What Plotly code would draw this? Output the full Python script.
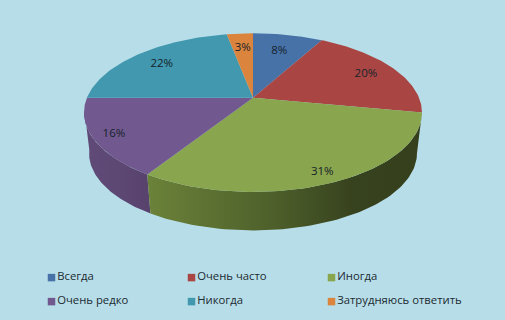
import numpy as np
import plotly.graph_objects as go

categories = ["Всегда", "Очень часто", "Иногда", "Очень редко", "Никогда", "Затрудняюсь ответить"]
percent_values = [8, 20, 31, 16, 22, 3]
slice_colors = ["#4672A8", "#A94644", "#89A54E", "#71588F", "#4198AF", "#DB843D"]
label_radius = [0.72, 0.80, 0.89, 0.88, 0.78, 0.75]
legend_x = [51.5, 191.5, 331.5, 51.5, 191.5, 331.5]
legend_y = [277.6, 277.6, 277.6, 301.6, 301.6, 301.6]

CX, CY, A, B, K = 253.0, 97.7, 166.0, 76.5, 0.188
BOTTOM_SCALE, BOTTOM_DY = 0.97, 41.3
LABEL_DY = 1.0


def project(theta_deg, r=1.0, scale=1.0, dy=0.0):
    t = np.radians(theta_deg)
    u, v = r * np.sin(t), -r * np.cos(t)
    d = 1 - K * v
    return CX + scale * A * u / d, CY + dy + scale * B * v / d


edges = np.concatenate([[0], np.cumsum(percent_values)]) * 3.6
fig = go.Figure()


def side(a0, a1, stops, x0, x1):
    th = np.linspace(a0, a1, 80)
    xt, yt = project(th)
    xb, yb = project(th[::-1], scale=BOTTOM_SCALE, dy=BOTTOM_DY)
    fig.add_trace(go.Scatter(
        x=np.concatenate([xt, xb]), y=np.concatenate([yt, yb]),
        mode="lines", line=dict(width=0), fill="toself",
        fillgradient=dict(type="horizontal", colorscale=stops, start=x0, stop=x1),
        hoverinfo="skip", showlegend=False))


side(edges[3], 262, [[0, "#604B78"], [0.6, "#5C4672"], [1, "#57426C"]], 85, 152)
side(edges[2], edges[3], [[0, "#6B8239"], [0.45, "#4E602B"], [0.75, "#37421E"], [1, "#353F1C"]], 148, 422)

for i, c in enumerate(categories):
    th = np.linspace(edges[i], edges[i + 1], 80)
    x, y = project(th)
    fig.add_trace(go.Scatter(
        x=np.concatenate([[CX], x, [CX]]), y=np.concatenate([[CY], y, [CY]]),
        mode="lines", line=dict(width=0), fill="toself", fillcolor=slice_colors[i],
        name=c, hoverinfo="skip", showlegend=False))

mids = (edges[:-1] + edges[1:]) / 2
lx, ly = project(mids, r=np.array(label_radius), dy=LABEL_DY)
fig.add_trace(go.Scatter(
    x=lx, y=ly, mode="text", text=[f"{v}%" for v in percent_values],
    textfont=dict(family="Open Sans", size=11.5, color="#16232B"),
    hoverinfo="skip", showlegend=False))

fig.add_trace(go.Scatter(
    x=legend_x, y=legend_y, mode="markers+text", text=categories,
    textposition="middle right", cliponaxis=False,
    textfont=dict(family="Open Sans", size=11.3, color="#1C2A32"),
    marker=dict(symbol="square", size=7.5, color=slice_colors, line=dict(width=0)),
    hoverinfo="skip", showlegend=False))

fig.update_layout(
    width=505, height=320, autosize=False,
    margin=dict(l=0, r=0, t=0, b=0),
    paper_bgcolor="#B7DEE8", plot_bgcolor="#B7DEE8",
    xaxis=dict(range=[0, 505], visible=False, fixedrange=True),
    yaxis=dict(range=[320, 0], visible=False, fixedrange=True),
    showlegend=False,
)
fig.write_html(
    "out.html",
    config={"displayModeBar": False},
    post_script="document.body.style.margin='0';document.body.style.background='#B7DEE8';document.documentElement.style.overflow='hidden';",
)
